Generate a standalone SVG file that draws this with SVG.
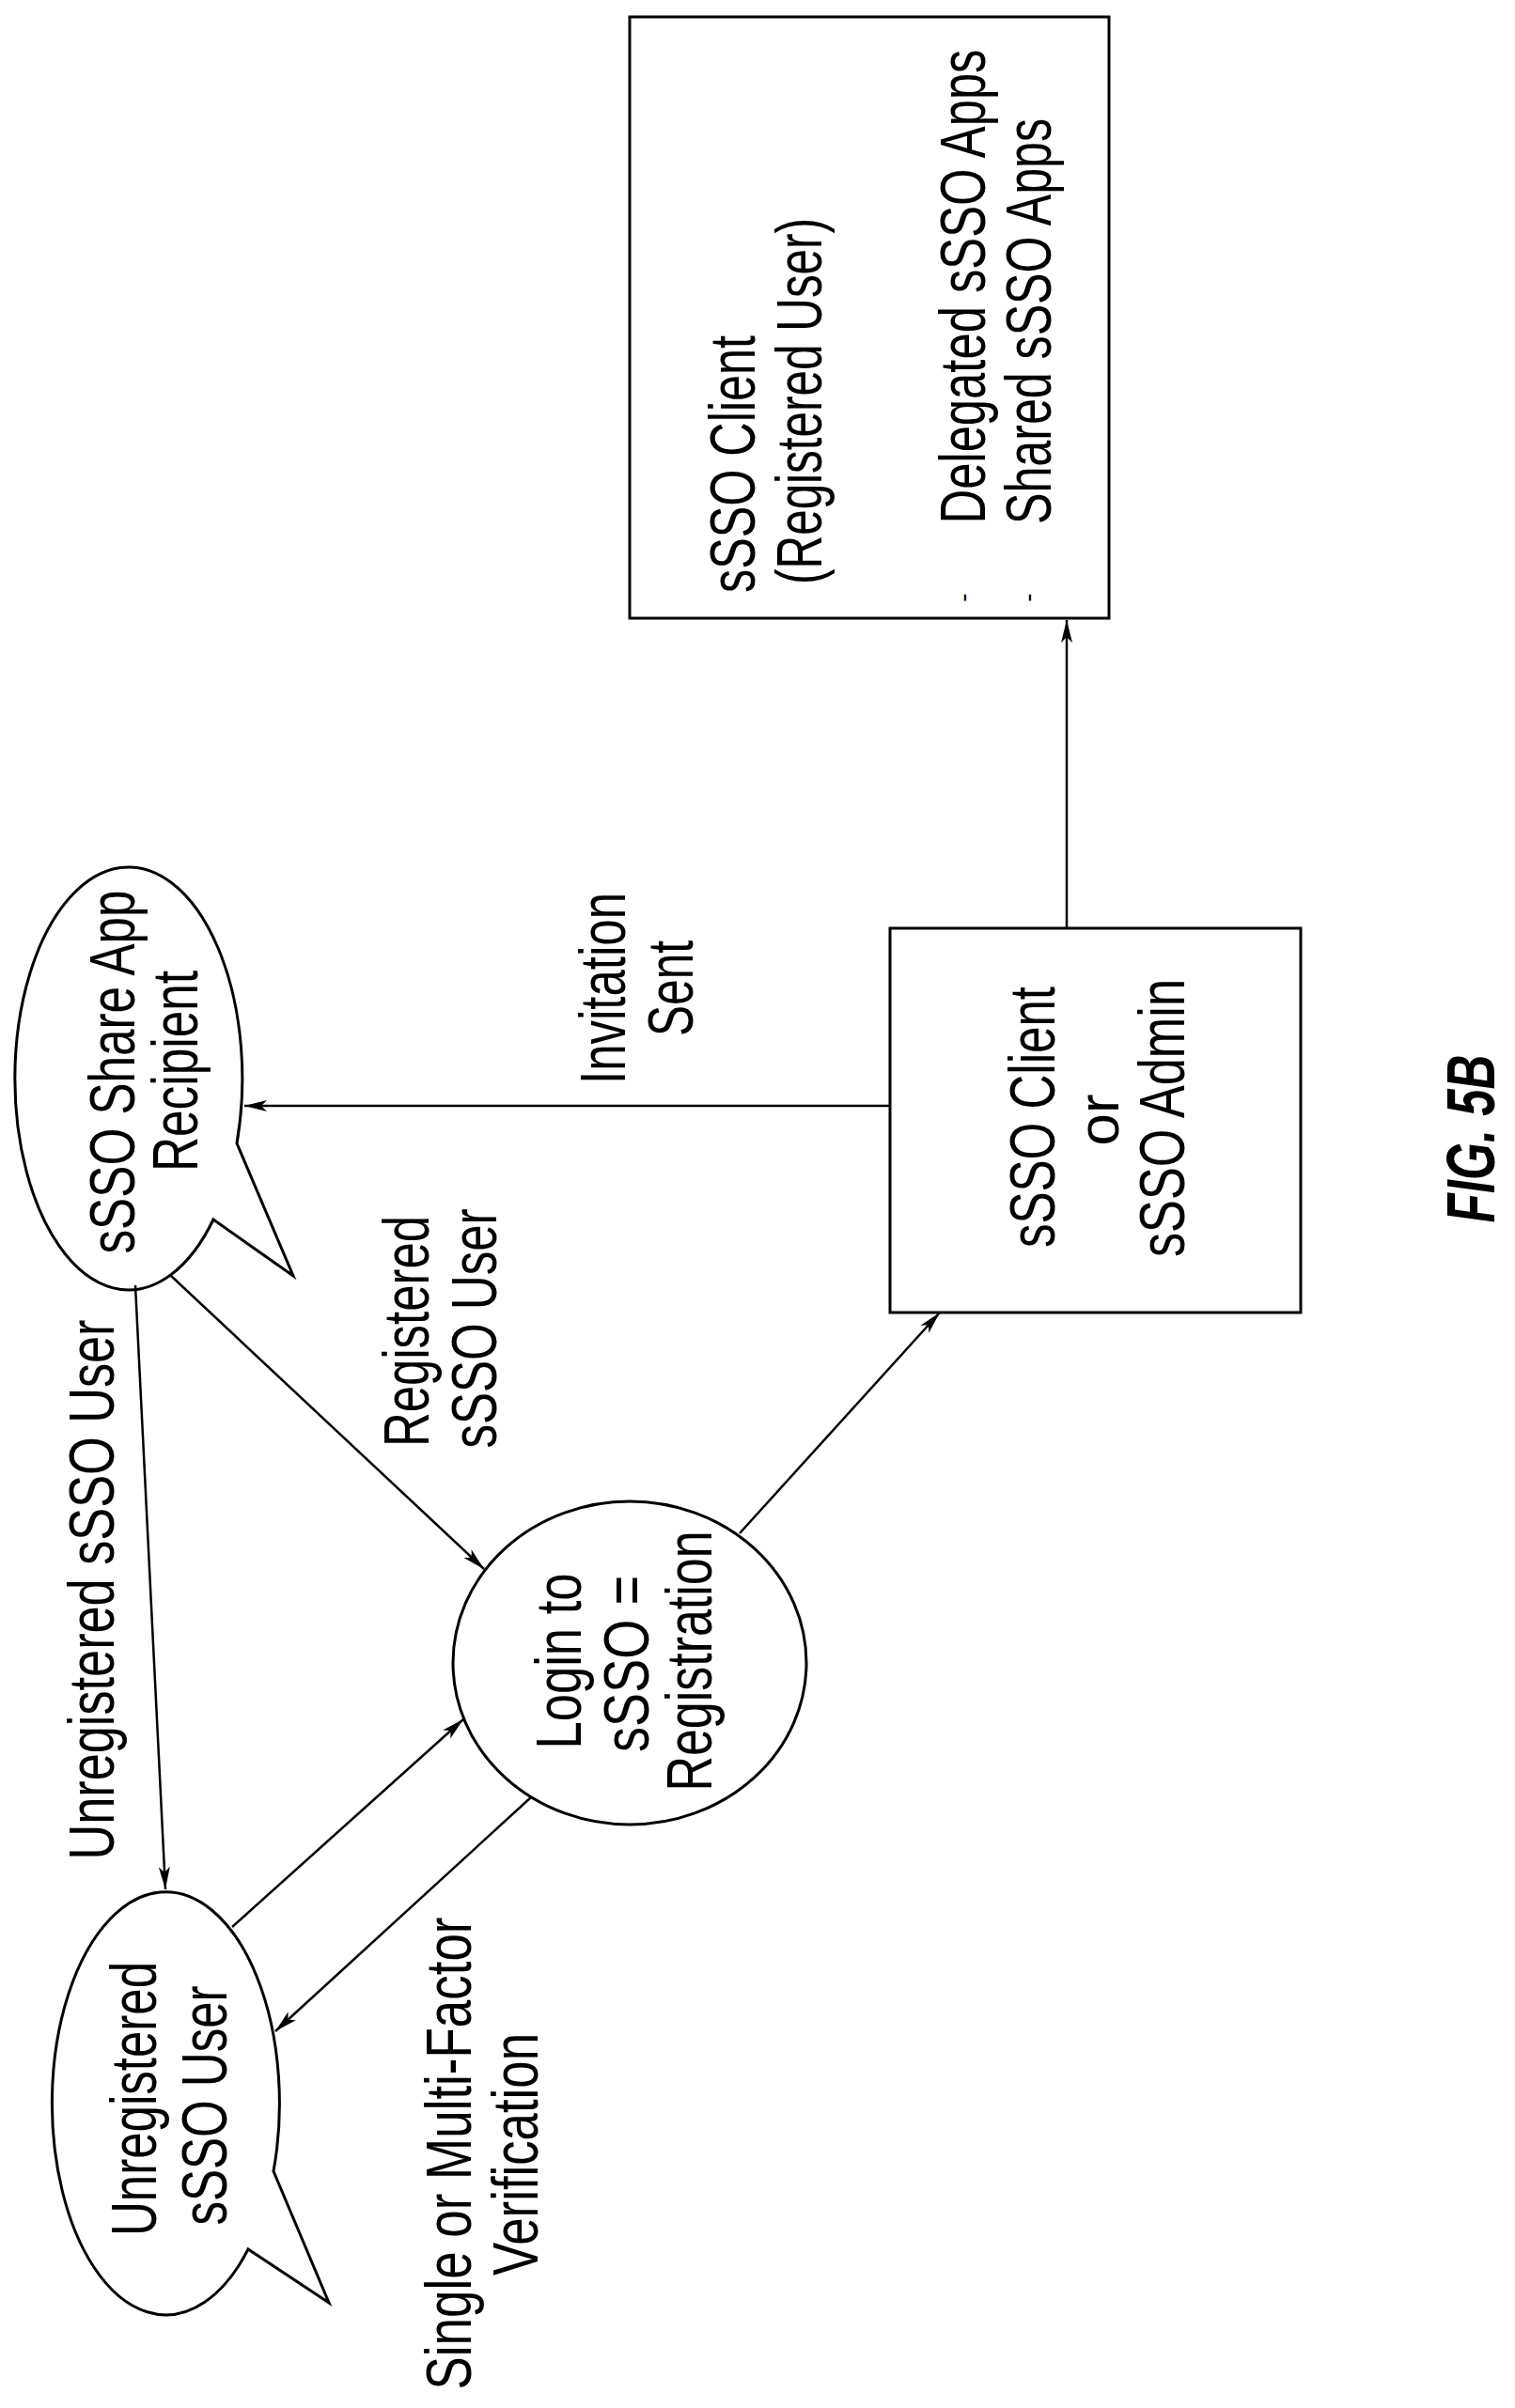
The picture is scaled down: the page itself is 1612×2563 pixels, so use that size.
<svg xmlns="http://www.w3.org/2000/svg" width="1612" height="2563" viewBox="0 0 1612 2563">
<style>
.s{fill:none;stroke:#000;stroke-width:3}
.c{fill:none;stroke:#000;stroke-width:2.5;marker-end:url(#ah)}
text{font-family:"Liberation Sans",Arial,sans-serif;font-size:68px;fill:#000;text-anchor:middle}
.fig{font-weight:bold;font-style:italic;font-size:72px}
</style>
<defs>
<marker id="ah" markerWidth="26" markerHeight="14" refX="24" refY="7" orient="auto" markerUnits="userSpaceOnUse">
<path d="M0,1 L24,7 L0,13 L6,7 Z" fill="#000"/>
</marker>
</defs>
<rect width="1612" height="2563" fill="#fff"/>

<g id="connectors">
<line class="c" x1="144" y1="1368" x2="176" y2="2011"/>
<line class="c" x1="182" y1="1358" x2="515" y2="1670"/>
<line class="c" x1="247" y1="2051" x2="493" y2="1830"/>
<line class="c" x1="565" y1="1913" x2="293" y2="2162"/>
<line class="c" x1="787" y1="1632" x2="1000" y2="1397"/>
<line class="c" x1="1135" y1="988" x2="1135" y2="660"/>
<line class="c" x1="947" y1="1177" x2="260" y2="1177"/>
</g>

<g id="client-box">
<rect class="s" x="670" y="18" width="510" height="640"/>
<text transform="translate(803,494) rotate(-90)" textLength="274" lengthAdjust="spacingAndGlyphs">sSSO Client</text>
<text transform="translate(874,427) rotate(-90)" textLength="390" lengthAdjust="spacingAndGlyphs">(Registered User)</text>
<text transform="translate(1048,305) rotate(-90)" textLength="505" lengthAdjust="spacingAndGlyphs">Delegated sSSO Apps</text>
<text transform="translate(1118,342) rotate(-90)" textLength="432" lengthAdjust="spacingAndGlyphs">Shared sSSO Apps</text>
<text transform="translate(1034,636) rotate(-90)" style="font-size:28px">-</text>
<text transform="translate(1103,636) rotate(-90)" style="font-size:28px">-</text>
</g>

<g id="client-admin">
<rect class="s" x="947" y="988" width="437" height="409"/>
<text transform="translate(1122,1189) rotate(-90)" textLength="278" lengthAdjust="spacingAndGlyphs">sSSO Client</text>
<text transform="translate(1190,1192) rotate(-90)" style="font-size:62px">or</text>
<text transform="translate(1260,1190) rotate(-90)" textLength="296" lengthAdjust="spacingAndGlyphs">sSSO Admin</text>
</g>

<g id="share-recipient">
<path class="s" d="M252,1217 L312,1358 L227,1298 A121,225 0 1 1 252,1217 Z"/>
<text transform="translate(143,1141) rotate(-90)" textLength="387" lengthAdjust="spacingAndGlyphs">sSSO Share App</text>
<text transform="translate(210,1140) rotate(-90)" textLength="214" lengthAdjust="spacingAndGlyphs">Recipient</text>
</g>

<g id="login">
<ellipse class="s" cx="670" cy="1770" rx="188" ry="172"/>
<text transform="translate(618,1768) rotate(-90)" textLength="187" lengthAdjust="spacingAndGlyphs">Login to</text>
<text transform="translate(690,1771) rotate(-90)" textLength="188" lengthAdjust="spacingAndGlyphs">sSSO =</text>
<text transform="translate(757,1768) rotate(-90)" textLength="277" lengthAdjust="spacingAndGlyphs">Registration</text>
</g>

<g id="unregistered-user">
<path class="s" d="M291,2311 L350,2451 L264,2394 A121,225 0 1 1 291,2311 Z"/>
<text transform="translate(166,2234) rotate(-90)" textLength="292" lengthAdjust="spacingAndGlyphs">Unregistered</text>
<text transform="translate(241,2241) rotate(-90)" textLength="255" lengthAdjust="spacingAndGlyphs">sSSO User</text>
</g>

<g id="labels">
<text transform="translate(665,1052) rotate(-90)" textLength="204" lengthAdjust="spacingAndGlyphs">Invitation</text>
<text transform="translate(737,1052) rotate(-90)" textLength="102" lengthAdjust="spacingAndGlyphs">Sent</text>
<text transform="translate(456,1417) rotate(-90)" textLength="246" lengthAdjust="spacingAndGlyphs">Registered</text>
<text transform="translate(528,1414) rotate(-90)" textLength="255" lengthAdjust="spacingAndGlyphs">sSSO User</text>
<text transform="translate(121,1692) rotate(-90)" textLength="575" lengthAdjust="spacingAndGlyphs">Unregistered sSSO User</text>
<text transform="translate(501,2292) rotate(-90)" textLength="503" lengthAdjust="spacingAndGlyphs">Single or Multi-Factor</text>
<text transform="translate(572,2293) rotate(-90)" textLength="258" lengthAdjust="spacingAndGlyphs">Verification</text>
<text class="fig" transform="translate(1590,1212) rotate(-90)" textLength="179" lengthAdjust="spacingAndGlyphs">FIG. 5B</text>
</g>
</svg>
